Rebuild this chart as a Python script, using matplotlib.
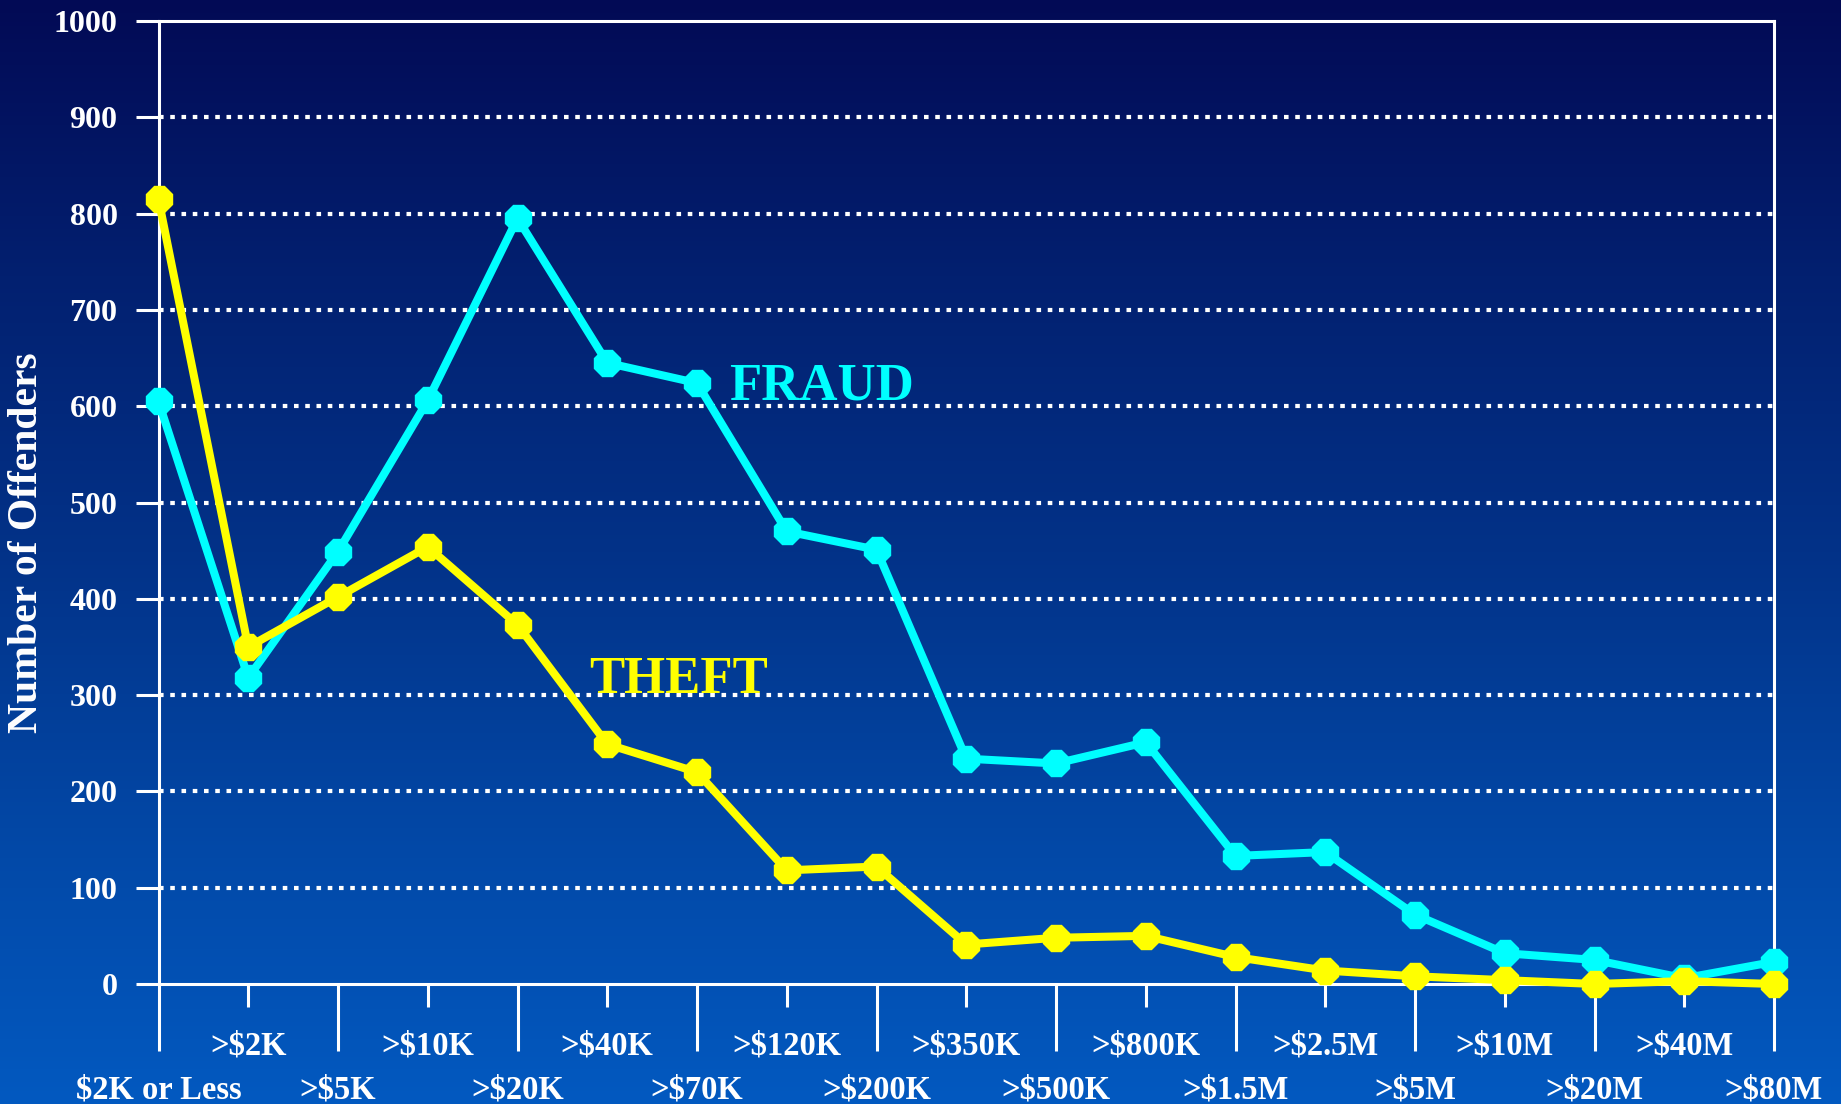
import numpy as np
import matplotlib
matplotlib.use("Agg")
import matplotlib.pyplot as plt
from matplotlib.colors import LinearSegmentedColormap

categories = ["$2K or Less", ">$2K", ">$5K", ">$10K", ">$20K", ">$40K", ">$70K",
              ">$120K", ">$200K", ">$350K", ">$500K", ">$800K", ">$1.5M",
              ">$2.5M", ">$5M", ">$10M", ">$20M", ">$40M", ">$80M"]
fraud = [605, 318, 449, 606, 795, 645, 624, 470, 451, 234, 229, 251, 133,
         137, 72, 32, 25, 6, 23]
theft = [815, 350, 402, 454, 373, 249, 220, 118, 122, 41, 48, 50, 28,
         14, 8, 4, 0, 3, 0]
yticks = [0, 100, 200, 300, 400, 500, 600, 700, 800, 900, 1000]

W, H, DPI = 1841, 1104, 100
fig = plt.figure(figsize=(W / DPI, H / DPI), dpi=DPI)

# background gradient
bg = fig.add_axes([0, 0, 1, 1], zorder=-10)
cmap = LinearSegmentedColormap.from_list("bg", ["#020a55", "#022070", "#023288", "#0247a5", "#0259c0"])
grad = np.linspace(0, 1, 256).reshape(-1, 1)
bg.imshow(grad, aspect="auto", cmap=cmap, extent=[0, 1, 0, 1], origin="upper")
bg.set_axis_off()

left, right = 158.5 / W, 1774 / W
bottom, top = 1 - 984 / H, 1 - 21 / H
ax = fig.add_axes([left, bottom, right - left, top - bottom])
ax.patch.set_alpha(0)

font = "Liberation Serif"
x = np.arange(len(categories))

ax.plot(x, fraud, color="#00ffff", lw=5.8, marker="8", ms=20.5, zorder=3, clip_on=False,
        solid_joinstyle="round")
ax.plot(x, theft, color="#ffff00", lw=5.8, marker="8", ms=20.5, zorder=4, clip_on=False,
        solid_joinstyle="round")

ax.set_xlim(0, len(categories) - 1)
ax.set_ylim(0, 1000)

for v in yticks[1:-1]:
    ax.axhline(v, color="white", lw=3, dashes=(1.1, 1.6), zorder=1)

for s in ax.spines.values():
    s.set_color("white")
    s.set_linewidth(2.2)

ax.set_yticks(yticks)
ax.set_yticklabels([str(v) for v in yticks], fontfamily=font, fontweight="bold",
                   fontsize=23, color="white")
ax.tick_params(axis="y", direction="out", length=16.5, width=2.2, color="white", pad=13)

odd = x[1::2]
even = x[0::2]
ax.set_xticks(odd)
ax.set_xticklabels([categories[i] for i in odd], fontfamily=font, fontweight="bold",
                   fontsize=23.5, color="white")
ax.set_xticks(even, minor=True)
ax.set_xticklabels([categories[i] for i in even], minor=True, fontfamily=font,
                   fontweight="bold", fontsize=23.5, color="white")
ax.tick_params(axis="x", which="major", direction="out", length=16.5, width=2.2,
               color="white", pad=17)
ax.tick_params(axis="x", which="minor", direction="out", length=48, width=2.2,
               color="white", pad=17)

fig.text(27 / W, 1 - 543 / H, "Number of Offenders", rotation=90, ha="center",
         va="center", fontfamily=font, fontweight="bold", fontsize=30, color="white")

ax.text(7.39, 607, "FRAUD", color="#00ffff", fontfamily=font, fontweight="bold",
        fontsize=38, ha="center", va="baseline")
ax.text(5.79, 302, "THEFT", color="#ffff00", fontfamily=font, fontweight="bold",
        fontsize=38, ha="center", va="baseline")

fig.savefig("out.png", dpi=DPI)
